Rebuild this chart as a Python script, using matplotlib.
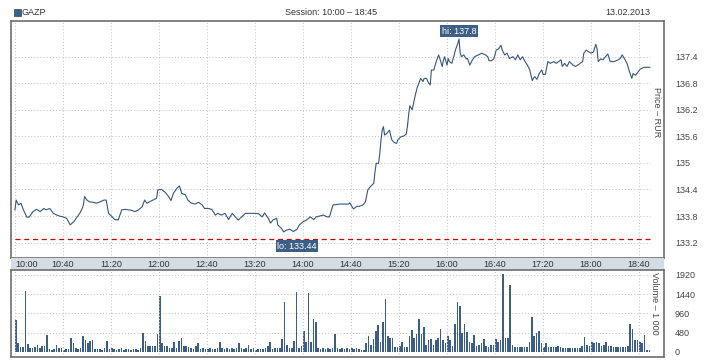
import numpy as np
import matplotlib.pyplot as plt
from matplotlib.patches import Rectangle
from matplotlib.transforms import blended_transform_factory

plt.rcParams["font.family"] = ["Liberation Sans", "DejaVu Sans"]

ticker = "GAZP"
session = "Session: 10:00 – 18:45"
trade_date = "13.02.2013"

# minutes after 10:00
price_time = [
    0, 1, 3, 5, 7, 10, 12, 15, 18, 21, 24, 26, 29, 32, 35, 37, 40, 43, 46, 49,
    51, 54, 56, 57, 58, 60, 62, 65, 68, 71, 74, 76, 78, 81, 83, 86, 89, 92, 94, 97,
    100, 103, 106, 108, 110, 112, 115, 118, 119, 122, 125, 128, 130, 132, 135, 137, 139, 142, 144, 147,
    150, 153, 156, 158, 161, 164, 167, 169, 172, 175, 178, 181, 183, 186, 189, 192, 194, 197, 200, 203,
    206, 208, 211, 213, 215, 218, 219, 222, 224, 226, 229, 232, 235, 237, 240, 243, 246, 249, 251, 254,
    257, 260, 262, 265, 271, 278, 279, 282, 285, 287, 290, 292, 294, 296, 299, 300, 301, 303, 304, 305,
    306, 307, 308, 310, 312, 314, 316, 318, 319, 321, 324, 326, 327, 328, 329, 331, 332, 333, 335, 337,
    338, 340, 341, 343, 344, 346, 347, 349, 351, 353, 354, 356, 357, 358, 360, 361, 362, 364, 366, 367,
    369, 370, 371, 372, 374, 376, 377, 379, 381, 383, 386, 389, 392, 394, 395, 397, 399, 401, 403, 405,
    406, 408, 410, 412, 415, 417, 419, 421, 423, 425, 427, 429, 431, 432, 433, 435, 437, 439, 440, 442,
    444, 446, 449, 451, 453, 455, 456, 458, 460, 462, 465, 467, 469, 471, 473, 474, 476, 478, 480, 482,
    484, 485, 486, 488, 490, 492, 494, 496, 499, 501, 504, 506, 508, 510, 512, 514, 515, 517, 519, 521,
    524, 529,
]
price = [
    133.94, 134.16, 134.05, 134.09, 133.94, 133.77, 133.78, 133.90, 133.95, 133.90,
    133.97, 133.94, 133.97, 133.86, 133.82, 133.80, 133.78, 133.75, 133.60, 133.67,
    133.75, 133.86, 133.97, 134.05, 134.24, 134.16, 134.12, 134.11, 134.09, 134.12,
    134.16, 134.16, 133.86, 133.78, 133.72, 133.71, 133.94, 133.95, 133.94, 133.93,
    133.90, 133.94, 134.01, 134.16, 134.09, 134.12, 134.16, 134.20, 134.39, 134.40,
    134.34, 134.24, 134.15, 134.31, 134.43, 134.48, 134.31, 134.28, 134.16, 134.09,
    134.07, 134.11, 134.05, 133.97, 133.97, 133.95, 133.82, 133.86, 133.82, 133.86,
    133.72, 133.86, 133.80, 133.71, 133.78, 133.86, 133.86, 133.86, 133.86, 133.85,
    133.78, 133.87, 133.75, 133.64, 133.71, 133.75, 133.60, 133.52, 133.44, 133.48,
    133.50, 133.45, 133.50, 133.60, 133.67, 133.71, 133.78, 133.72, 133.78, 133.80,
    133.82, 133.78, 133.78, 134.05, 134.07, 134.07, 134.10, 133.96, 134.02, 134.02,
    134.05, 134.12, 134.39, 134.46, 134.54, 134.80, 134.99, 134.99, 135.22, 135.52,
    135.74, 135.82, 135.63, 135.67, 135.74, 135.52, 135.46, 135.44, 135.52, 135.58,
    135.61, 135.65, 135.82, 136.08, 136.29, 136.20, 136.33, 136.46, 136.69, 136.84,
    136.91, 136.84, 136.91, 136.91, 136.84, 136.76, 137.10, 137.10, 137.29, 137.44,
    137.36, 137.18, 137.32, 137.40, 137.21, 137.36, 137.29, 137.25, 137.44, 137.55,
    137.70, 137.80, 137.48, 137.40, 137.44, 137.35, 137.36, 137.21, 137.32, 137.40,
    137.44, 137.48, 137.44, 137.40, 137.31, 137.31, 137.35, 137.55, 137.58, 137.66,
    137.55, 137.44, 137.48, 137.36, 137.40, 137.33, 137.44, 137.33, 137.40, 137.29,
    137.21, 137.10, 136.86, 136.91, 136.95, 136.89, 137.03, 137.10, 137.00, 137.00,
    137.29, 137.25, 137.29, 137.25, 137.29, 137.33, 137.18, 137.25, 137.18, 137.29,
    137.21, 137.18, 137.21, 137.25, 137.29, 137.48, 137.55, 137.51, 137.48, 137.51,
    137.68, 137.58, 137.29, 137.35, 137.33, 137.40, 137.46, 137.29, 137.29, 137.31,
    137.35, 137.44, 137.35, 137.25, 137.06, 136.91, 137.02, 136.98, 137.05, 137.12,
    137.16, 137.16,
]
lo_line = 133.27

# volume in 2-minute buckets, thousands of shares
volume_step = 2
volume = [
    784, 212, 106, 106, 1520, 195, 90, 90, 106, 170,
    80, 130, 130, 417, 65, 50, 65, 170, 90, 90,
    50, 65, 65, 351, 212, 90, 65, 80, 392, 290,
    212, 270, 294, 65, 65, 65, 50, 80, 278, 65,
    80, 65, 50, 65, 80, 50, 65, 65, 50, 65,
    65, 50, 80, 474, 280, 130, 130, 130, 130, 441,
    1397, 230, 130, 130, 80, 90, 250, 80, 270, 351,
    130, 130, 106, 80, 65, 130, 212, 65, 80, 65,
    65, 80, 65, 65, 80, 250, 80, 65, 90, 65,
    80, 65, 80, 212, 90, 65, 80, 170, 65, 80,
    50, 65, 65, 65, 80, 130, 250, 65, 90, 90,
    90, 319, 1234, 170, 90, 90, 278, 1503, 90, 130,
    523, 250, 1479, 250, 825, 743, 80, 65, 90, 65,
    80, 65, 90, 441, 80, 65, 80, 65, 80, 65,
    80, 65, 80, 65, 50, 50, 212, 400, 170, 320,
    523, 662, 250, 743, 1315, 400, 350, 335, 115, 115,
    130, 250, 115, 115, 392, 539, 335, 441, 825, 441,
    621, 170, 295, 320, 160, 295, 335, 564, 290, 212,
    392, 290, 130, 703, 1234, 1152, 457, 703, 498, 250,
    212, 417, 130, 170, 212, 320, 130, 106, 170, 170,
    320, 250, 294, 1944, 335, 335, 1667, 170, 115, 115,
    115, 115, 115, 115, 250, 866, 392, 457, 523, 212,
    115, 212, 115, 115, 115, 115, 130, 115, 90, 90,
    90, 90, 90, 90, 90, 90, 130, 376, 170, 130,
    250, 212, 250, 228, 130, 170, 250, 150, 145, 115,
    115, 115, 115, 115, 115, 130, 703, 580, 294, 294,
    250, 212, 417, 50, 30,
]

time_ticks = [0, 40, 80, 120, 160, 200, 240, 280, 320, 360, 400, 440, 480, 520]
time_labels = ["10:00", "10:40", "11:20", "12:00", "12:40", "13:20", "14:00",
               "14:40", "15:20", "16:00", "16:40", "17:20", "18:00", "18:40"]
price_ticks = [133.2, 133.8, 134.4, 135.0, 135.6, 136.2, 136.8, 137.4]
volume_ticks = [0, 480, 960, 1440, 1920]

W, H = 718, 360
LINE = "#33567f"
BOX = "#3d5f85"
FRAME = "#6e6e6e"
GRID = "#c4c4c4"
TXT = "#444444"
FS = 6.5


def box(left, top, right, bottom):
    return [left / W, 1 - bottom / H, (right - left) / W, (bottom - top) / H]


fig = plt.figure(figsize=(W / 100, H / 100), dpi=100)
ax = fig.add_axes(box(11, 21, 664, 258))
band = fig.add_axes(box(11, 258, 664, 270))
axv = fig.add_axes(box(11, 270, 664, 357))

xlim = (-3.3, 540.8)
data_end = price_time[-1]
dots = dict(color=GRID, lw=0.75, ls=(0, (1, 2)))

for a in (ax, axv):
    a.set_xlim(*xlim)
    a.set_xticks(time_ticks)
    a.grid(axis="x", **dots)
    a.yaxis.tick_right()
    a.tick_params(length=0, labelbottom=False, labelsize=FS, labelcolor=TXT, pad=8)
    for s in a.spines.values():
        s.set_color(FRAME)
        s.set_linewidth(1.2)

# price panel
ax.set_ylim(132.851, 138.207)
ax.set_yticks(price_ticks)
ax.set_yticklabels([f"{v:g}" for v in price_ticks])
ax.hlines(price_ticks, 0, data_end, zorder=0, **dots)
ax.hlines(lo_line, 0, data_end, color="#cc0000", lw=0.9, ls=(0, (4, 3)))
ax.plot(price_time, price, color=LINE, lw=0.8)

i_hi = int(np.argmax(price))
i_lo = int(np.argmin(price))
ax.annotate(f"hi: {price[i_hi]:g}", (price_time[i_hi], price[i_hi]),
            xytext=(0, 2.5), textcoords="offset points", ha="center", va="bottom",
            color="white", fontsize=FS,
            bbox=dict(boxstyle="square,pad=0.15", fc=BOX, ec="none"))
ax.text(price_time[i_lo] + 11, lo_line - 0.148, f"lo: {price[i_lo]:g}",
        ha="center", va="center", color="white", fontsize=FS,
        bbox=dict(boxstyle="square,pad=0.15", fc=BOX, ec="none"))
ax.text(0.989, 0.616, "Price – RUR", transform=ax.transAxes, rotation=270,
        ha="center", va="center", fontsize=FS, color=TXT)

# time band
band.set_xlim(*xlim)
band.set_facecolor("#d5dce4")
band.set_xticks([])
band.set_yticks([])
for s in band.spines.values():
    s.set_visible(False)
tr = blended_transform_factory(band.transData, band.transAxes)
for i, (t, lab) in enumerate(zip(time_ticks, time_labels)):
    band.text(t, 0.45, lab, transform=tr, ha="left" if i == 0 else "center",
              va="center", fontsize=FS, color="#333333")

# volume panel
vol_time = np.arange(len(volume)) * volume_step
axv.set_ylim(-133, 2045)
axv.set_yticks(volume_ticks)
axv.hlines(volume_ticks[1:], 0, data_end, zorder=0, **dots)
axv.bar(vol_time, volume, width=1.3, align="edge", color="#3b5e87", lw=0)
axv.text(0.986, 0.62, "Volume – 1 000", transform=axv.transAxes, rotation=270,
         ha="center", va="center", fontsize=FS, color=TXT)

# header
fig.patches.append(Rectangle((14 / W, 1 - 16 / H), 7 / W, 7 / H,
                             transform=fig.transFigure, fc=BOX, ec="#2a4466", lw=0.5))
fig.text(22 / W, 1 - 12.5 / H, ticker, ha="left", va="center", fontsize=FS, color="#333333")
fig.text(331 / W, 1 - 12.5 / H, session, ha="center", va="center", fontsize=FS, color="#333333")
fig.text(650 / W, 1 - 12.5 / H, trade_date, ha="right", va="center", fontsize=FS, color="#333333")

fig.savefig("out.png", dpi=100)
